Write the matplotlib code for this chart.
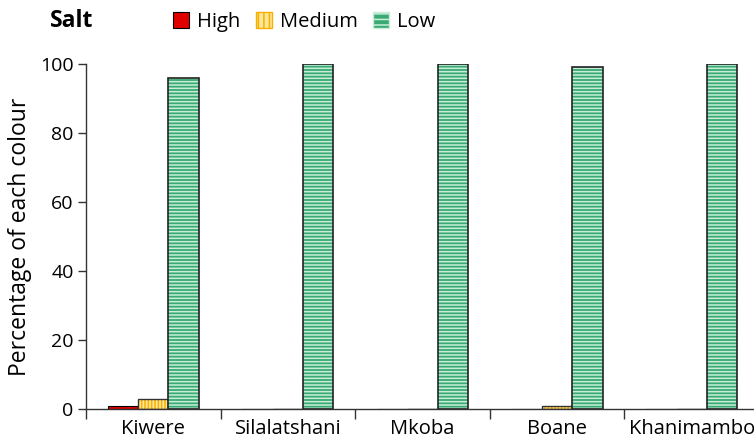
import numpy as np
from matplotlib import pyplot as plt
from matplotlib.patches import Patch

sites = ['Kiwere', 'Silalatshani', 'Mkoba', 'Boane', 'Khanimambo']
high = [1, 0, 0, 0, 0]
medium = [3, 0, 0, 1, 0]
low = [96, 100, 100, 99, 100]

plt.rcParams['font.family'] = ['Open Sans', 'DejaVu Sans']
plt.rcParams['hatch.linewidth'] = 1.1

fig = plt.figure(figsize=(7.54, 4.42), dpi=100)
ax = fig.add_axes([86 / 754, 33 / 442, 673 / 754, 345 / 442])

x = np.arange(len(sites))
w = 0.225

# fill + hatch first, then black outline on top
ax.bar(x - w, high, w, color='#e00000', edgecolor='black', linewidth=0.8)
ax.bar(x, medium, w, color='#ffe699', edgecolor='#f5b000', hatch='|||||', linewidth=0)
ax.bar(x, medium, w, fill=False, edgecolor='#333333', linewidth=1.0)
ax.bar(x + w, low, w, color='#3aaa74', edgecolor='#c8eed9', hatch='-----', linewidth=0)
ax.bar(x + w, low, w, fill=False, edgecolor='#222222', linewidth=1.2)

ax.set_xlim(-0.5, len(sites) - 0.5)
ax.set_ylim(0, 100)
ax.set_yticks(range(0, 101, 20))
ax.set_xticks(x)
ax.set_xticklabels(sites, fontsize=14.5)
ax.set_xticks(np.arange(-0.5, len(sites), 1), minor=True)
ax.tick_params(axis='x', which='major', length=0, pad=7)
ax.tick_params(axis='x', which='minor', length=7, width=1, color='#333333')
ax.tick_params(axis='y', length=6, width=1, color='#333333', labelsize=14, pad=3)
for s in ['top', 'right']:
    ax.spines[s].set_visible(False)
for s in ['left', 'bottom']:
    ax.spines[s].set_color('#333333')
    ax.spines[s].set_linewidth(1)
ax.set_ylabel('Percentage of each colour', fontsize=16.5, labelpad=6)

fig.text(50 / 754, 1 - 21 / 442, 'Salt', fontsize=16.5, fontweight='bold', va='center')
handles = [Patch(facecolor='#e00000', edgecolor='black', linewidth=0.8),
           Patch(facecolor='#ffe699', edgecolor='#f5b000', hatch='|||'),
           Patch(facecolor='#3aaa74', edgecolor='#c8eed9', hatch='---')]
leg = fig.legend(handles, ['High', 'Medium', 'Low'], loc='center left',
                 bbox_to_anchor=(165 / 754, 1 - 22 / 442), ncol=3, frameon=False,
                 fontsize=14.5, handlelength=0.8, handleheight=0.8,
                 handletextpad=0.4, columnspacing=0.75, borderaxespad=0)

plt.savefig('out.png', dpi=100)
